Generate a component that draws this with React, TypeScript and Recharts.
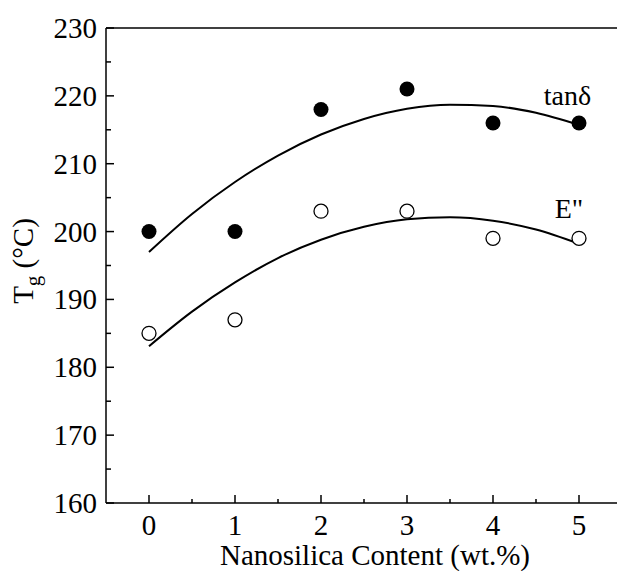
import React from "react";
import {
  ComposedChart,
  Line,
  Scatter,
  XAxis,
  YAxis,
  ReferenceLine,
  ReferenceDot,
} from "recharts";

// measured points
const contents = [0, 1, 2, 3, 4, 5];
const tanDelta = [200, 200, 218, 221, 216, 216];
const lossModulus = [185, 187, 203, 203, 199, 199];

// fitted curves
const curveX = [0, 0.5, 1, 1.5, 2, 2.5, 3, 3.5, 4, 4.5, 5];
const tanDeltaFit = [197.0, 202.6, 207.3, 211.2, 214.3, 216.6, 218.1, 218.7, 218.5, 217.5, 215.7];
const lossFit = [183.1, 188.2, 192.5, 196.1, 198.8, 200.7, 201.8, 202.1, 201.6, 200.3, 198.2];

const xTicks = [0, 0.5, 1, 1.5, 2, 2.5, 3, 3.5, 4, 4.5, 5];
const yTicks = [160, 165, 170, 175, 180, 185, 190, 195, 200, 205, 210, 215, 220, 225, 230];

const txt: React.CSSProperties = {
  fontFamily: "'Liberation Serif', 'Times New Roman', serif",
  fontSize: 29,
  fill: "#000",
};

const tanPoints = contents.map((x, i) => ({ x, y: tanDelta[i] }));
const lossPoints = contents.map((x, i) => ({ x, y: lossModulus[i] }));
const tanCurve = curveX.map((x, i) => ({ x, y: tanDeltaFit[i] }));
const lossCurve = curveX.map((x, i) => ({ x, y: lossFit[i] }));

function XTick(props: any) {
  const { x, y, payload } = props;
  const major = Number.isInteger(payload.value);
  return (
    <g>
      <line x1={x} x2={x} y1={y} y2={y - (major ? 8 : 4)} stroke="#000" strokeWidth={1.5} />
      {major && (
        <text x={x} y={y + 32} textAnchor="middle" style={txt}>
          {payload.value}
        </text>
      )}
    </g>
  );
}

function YTick(props: any) {
  const { x, y, payload } = props;
  const major = payload.value % 10 === 0;
  return (
    <g>
      <line x1={x} x2={x + (major ? 8 : 5)} y1={y} y2={y} stroke="#000" strokeWidth={1.5} />
      {major && (
        <text x={x - 9} y={y + 10} textAnchor="end" style={txt}>
          {payload.value}
        </text>
      )}
    </g>
  );
}

function AnnLabel(props: any) {
  const { viewBox, text } = props;
  return (
    <text x={viewBox.x} y={viewBox.y} textAnchor="middle" style={{ ...txt, fontSize: 28 }}>
      {text}
    </text>
  );
}

function YTitle() {
  return (
    <text transform="translate(33, 261) rotate(-90)" textAnchor="middle" style={txt}>
      T<tspan style={{ fontSize: 21 }} dy={7}>g</tspan>
      <tspan dy={-7}> (°C)</tspan>
    </text>
  );
}

function XTitle() {
  return (
    <text x={375} y={565} textAnchor="middle" style={txt}>
      Nanosilica Content (wt.%)
    </text>
  );
}

const openDot = (p: any) => (
  <circle cx={p.cx} cy={p.cy} r={7} fill="#fff" stroke="#000" strokeWidth={1.3} />
);
const filledDot = (p: any) => <circle cx={p.cx} cy={p.cy} r={7.5} fill="#000" />;

export default function App() {
  return (
    <div
      style={{
        position: "absolute",
        left: 0,
        top: 0,
        width: 617,
        height: 571,
        overflow: "hidden",
        background: "#fff",
      }}
    >
      <ComposedChart width={622} height={571} margin={{ top: 28, right: 0, left: 0, bottom: 0 }}>
        <XAxis
          type="number"
          dataKey="x"
          domain={[-0.5, 5.5]}
          ticks={xTicks}
          interval={0}
          height={68}
          tickSize={0}
          tickMargin={0}
          tickLine={false}
          tick={<XTick />}
          axisLine={{ stroke: "#000", strokeWidth: 1.5 }}
          label={{ content: () => <XTitle /> }}
        />
        <YAxis
          type="number"
          domain={[160, 230]}
          ticks={yTicks}
          interval={0}
          width={106}
          tickSize={0}
          tickMargin={0}
          tickLine={false}
          tick={<YTick />}
          axisLine={{ stroke: "#000", strokeWidth: 1.5 }}
          label={{ content: () => <YTitle /> }}
        />
        <ReferenceLine y={230} stroke="#000" strokeWidth={1.5} />
        <Line
          data={tanCurve}
          dataKey="y"
          type="monotone"
          stroke="#000"
          strokeWidth={2}
          dot={false}
          isAnimationActive={false}
        />
        <Line
          data={lossCurve}
          dataKey="y"
          type="monotone"
          stroke="#000"
          strokeWidth={2}
          dot={false}
          isAnimationActive={false}
        />
        <Scatter data={tanPoints} dataKey="y" shape={filledDot} isAnimationActive={false} />
        <Scatter data={lossPoints} dataKey="y" shape={openDot} isAnimationActive={false} />
        <ReferenceDot x={4.866} y={218.65} r={0} fill="none" stroke="none" label={<AnnLabel text="tanδ" />} />
        <ReferenceDot x={4.884} y={202} r={0} fill="none" stroke="none" label={<AnnLabel text={'E"'} />} />
      </ComposedChart>
    </div>
  );
}
